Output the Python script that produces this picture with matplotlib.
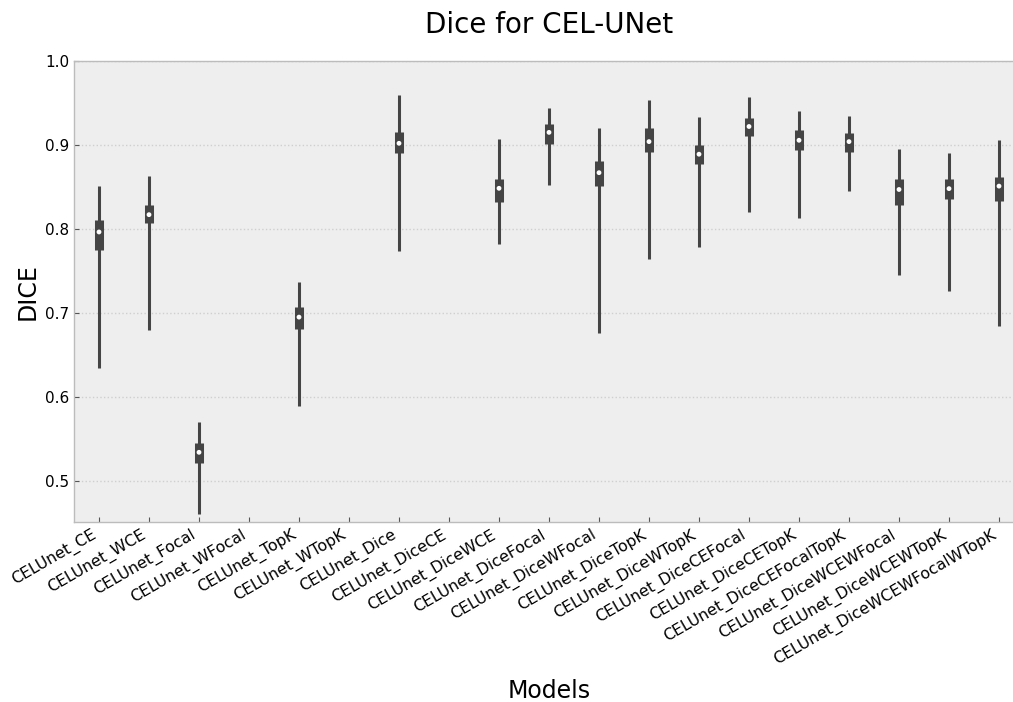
import matplotlib
matplotlib.use("Agg")
import matplotlib.pyplot as plt
import numpy as np

plt.rcParams["font.family"] = ["DejaVu Sans"]

models = ["CELUnet_CE", "CELUnet_WCE", "CELUnet_Focal", "CELUnet_WFocal", "CELUnet_TopK",
          "CELUnet_WTopK", "CELUnet_Dice", "CELUnet_DiceCE", "CELUnet_DiceWCE",
          "CELUnet_DiceFocal", "CELUnet_DiceWFocal", "CELUnet_DiceTopK", "CELUnet_DiceWTopK",
          "CELUnet_DiceCEFocal", "CELUnet_DiceCETopK", "CELUnet_DiceCEFocalTopK",
          "CELUnet_DiceWCEWFocal", "CELUnet_DiceWCEWTopK", "CELUnet_DiceWCEWFocalWTopK"]
nan = np.nan
whisker_low = [0.634, 0.680, 0.460, nan, 0.589, nan, 0.774, nan, 0.7825, 0.852, 0.676,
               0.764, 0.779, 0.820, 0.813, 0.845, 0.745, 0.726, 0.684]
q1 = [0.775, 0.8075, 0.521, nan, 0.681, nan, 0.890, nan, 0.8325, 0.9016, 0.851,
      0.892, 0.877, 0.911, 0.8937, 0.892, 0.828, 0.836, 0.833]
median = [0.7964, 0.817, 0.534, nan, 0.695, nan, 0.902, nan, 0.8484, 0.915, 0.867,
          0.904, 0.889, 0.922, 0.9056, 0.904, 0.847, 0.848, 0.851]
q3 = [0.811, 0.829, 0.5456, nan, 0.7075, nan, 0.9155, nan, 0.860, 0.925, 0.881,
      0.920, 0.8996, 0.932, 0.9175, 0.914, 0.8595, 0.860, 0.862]
whisker_high = [0.851, 0.863, 0.570, nan, 0.737, nan, 0.960, nan, 0.9067, 0.944, 0.920,
                0.954, 0.933, 0.9575, 0.940, 0.935, 0.895, 0.890, 0.9055]

W, H = 1013, 702
fig = plt.figure(figsize=(W/100, H/100), dpi=100)
ax = fig.add_axes([74/W, 1 - 522/H, 950/W, (522-61)/H])
ax.set_facecolor("#eeeeee")
for s in ax.spines.values():
    s.set_color("#bcbcbc")
    s.set_linewidth(1.0)

x = np.arange(len(models))
dark = "#444444"
ax.vlines(x, whisker_low, whisker_high, color=dark, lw=2.2, zorder=3)
ax.vlines(x, q1, q3, color=dark, lw=6.5, zorder=3)
ax.scatter(x, median, s=12, color="white", zorder=4, edgecolors="none")

ax.set_xlim(-0.5, 18.5)
ax.set_ylim(0.451, 1.0)
ax.set_yticks([0.5, 0.6, 0.7, 0.8, 0.9, 1.0])
ax.set_xticks(x)
ax.set_xticklabels(models, rotation=30, ha="right", fontsize=11.3)
ax.tick_params(axis="y", labelsize=11)
ax.tick_params(direction="in", length=3.5, color="#555555", width=0.8)
ax.yaxis.grid(True, linestyle=":", color="#cfcfcf", lw=1.0)
ax.set_axisbelow(True)

ax.set_xlabel("Models", fontsize=17, labelpad=8)
ax.set_ylabel("DICE", fontsize=17)
ax.set_title("Dice for CEL-UNet", fontsize=20, pad=20)

fig.savefig("out.png", dpi=100)
